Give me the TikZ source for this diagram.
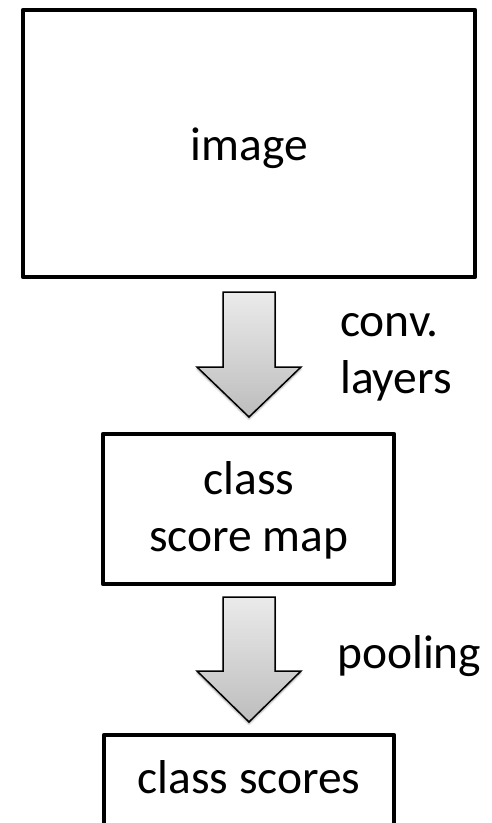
\documentclass[tikz,border=0pt]{standalone}
\usepackage{fontspec}
\setmainfont{Carlito}
\usetikzlibrary{shadows,shadows.blur}
\tikzset{
  box/.style={draw=black, line width=4.5pt, rectangle, inner sep=0pt, line join=round},
  lbl/.style={inner sep=0pt, font=\fontsize{47.5}{57}\selectfont},
  blockarrow/.style={draw=black, line width=1.5pt, line join=miter,
    top color=black!8, bottom color=black!26,
    blur shadow={shadow blur steps=6, shadow xshift=0pt, shadow yshift=-2pt, shadow opacity=35}}
}
\begin{document}
\begin{tikzpicture}[x=1pt, y=-1pt]
\useasboundingbox (0,0) rectangle (492,823);
\clip (0,0) rectangle (492,823);
% boxes
\node[box, minimum width=452pt, minimum height=267pt] (img) at (249,143.5) {};
\node[box, minimum width=291pt, minimum height=150pt] (map) at (248.5,509) {};
\node[box, minimum width=290pt, minimum height=110pt] (scores) at (249,790) {};
% texts
\node[lbl, anchor=base] (timg) at (249.5,160) {image};
\node[lbl, anchor=base] (tclass) at (249,494) {class};
\node[lbl, anchor=base] (tmap) at (249,551) {score map};
\node[lbl, anchor=base] (tscores) at (249,793) {class scores};
\node[lbl, anchor=base west] (tconv) at (340,336) {conv.};
\node[lbl, anchor=base west] (tlayers) at (340,393) {layers};
\node[lbl, anchor=base west] (tpool) at (337,668) {pooling};
% block arrows
\path[blockarrow] (223,292) -- (275,292) -- (275,367) -- (301,367) -- (249,417)
  -- (197,367) -- (223,367) -- cycle;
\path[blockarrow] (223,597) -- (275,597) -- (275,671) -- (301,671) -- (249,722)
  -- (197,671) -- (223,671) -- cycle;
\end{tikzpicture}
\end{document}
